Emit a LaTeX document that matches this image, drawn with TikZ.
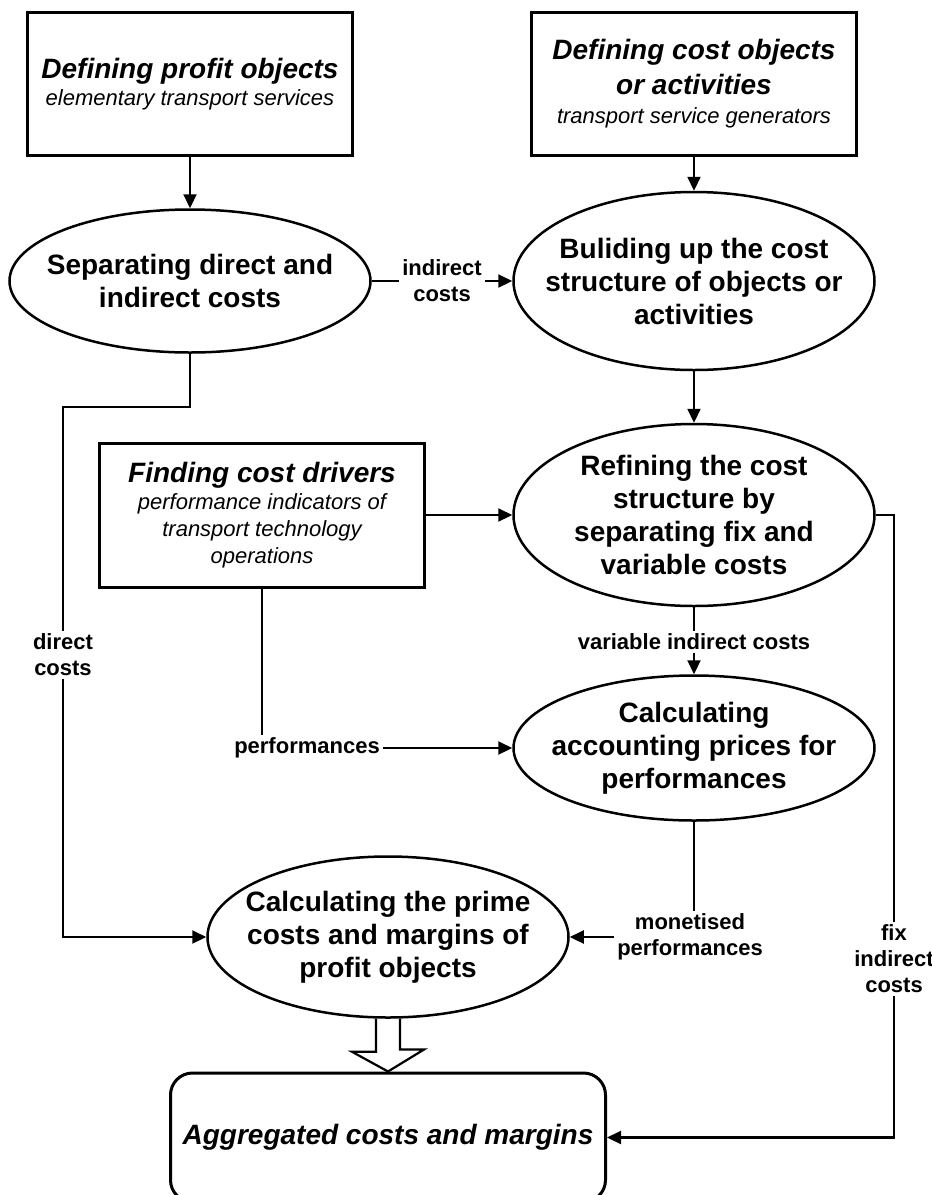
\documentclass[tikz,border=0pt]{standalone}
\usepackage{fontspec}
\setmainfont{Liberation Sans}
\usetikzlibrary{shapes.geometric,arrows.meta}

\tikzset{
  box/.style={draw, line width=3pt, minimum width=325pt, minimum height=143pt,
    align=center, font=\fontsize{22}{27}\selectfont\itshape},
  proc/.style={draw, ellipse, line width=2.5pt, inner sep=0pt, minimum width=361pt},
  ptext/.style={align=center, font=\fontsize{28}{33}\selectfont\bfseries},
  lbl/.style={align=center, font=\fontsize{22}{26}\selectfont\bfseries, inner sep=3pt},
  flow/.style={line width=2.2pt},
  flowarr/.style={flow, -{Triangle[length=14pt,width=13pt]}},
}
\newcommand{\headtxt}[1]{{\fontsize{28}{33}\selectfont\bfseries\itshape #1}}

\begin{document}
\begin{tikzpicture}[x=1pt,y=-1pt]
        \useasboundingbox (0,0) rectangle (932,1195);

        % Boxes at the top
        \node[box] (profit) at (190,84) {\headtxt{Defining profit objects}\\elementary transport services};
        \node[box] (costobj) at (694,84) {\headtxt{Defining cost objects}\\[8pt]\headtxt{or activities}\\[2pt]transport service generators};

        % Processes
        \node[proc, minimum height=143pt] (sep) at (190,281) {};
        \node[ptext] (sep-t) at (sep) {Separating direct and\\indirect costs};
        \node[proc, minimum height=178pt] (build) at (694,281) {};
        \node[ptext] (build-t) at (build) {Buliding up the cost\\structure of objects or\\activities};
        \node[proc, minimum height=182pt] (refine) at (694,515) {};
        \node[ptext] (refine-t) at (refine) {Refining the cost\\structure by\\separating fix and\\variable costs};
        \node[box, minimum height=144pt] (drv) at (262,515) {\headtxt{Finding cost drivers}\\performance indicators of\\transport technology\\operations};
        \node[proc, minimum height=145pt] (acc) at (694,748) {};
        \node[ptext] (acc-t) at (acc) {Calculating\\accounting prices for\\performances};
        \node[proc, minimum height=161pt] (prime) at (388,937) {};
        \node[ptext] (prime-t) at (prime) {Calculating the prime\\costs and margins of\\profit objects};
        \node[draw, line width=3pt, rounded corners=22pt, minimum width=435pt, minimum height=129pt] (agg) at (388,1137.5) {\headtxt{Aggregated costs and margins}};

        % Labels on the connectors
        \node[lbl] (ind) at (442,281) {indirect\\costs};
        \node[lbl] (dir) at (63,655) {direct\\costs};
        \node[lbl] (var) at (694,642) {variable indirect costs};
        \node[lbl] (perf) at (307,748) {performances};
        \node[lbl] (mon) at (690,937) {monetised\\performances};
        \node[lbl] (fix) at (894,959) {fix\\indirect\\costs};
        \coordinate (dbend) at (63,407);

        % Connectors
        \draw[flowarr] (profit) -- (sep);
        \draw[flowarr] (costobj) -- (build);
        \draw[flow] (sep.east) -- (ind.west);
        \draw[flowarr] (ind.east) -- (build.west);
        \draw[flow] (sep.south) |- (dbend) -- (dir.north);
        \draw[flowarr] (dir.south) |- (prime.west);
        \draw[flowarr] (build) -- (refine);
        \draw[flowarr] (drv) -- (refine);
        \draw[flow] (refine.east) -| (fix.north);
        \draw[flowarr] (fix.south) |- (agg.east);
        \draw[flow] (refine.south) -- (var.north);
        \draw[flowarr] (var) -- (acc);
        \draw[flow] (drv.south) -- (drv.south |- perf.north);
        \draw[flowarr] (perf) -- (acc);
        \draw[flow] (acc.south) -- (acc.south |- mon.north);
        \draw[flowarr] (mon) -- (prime);

        % Hollow arrow to the aggregated results
        \draw[flow] ([xshift=-12pt]prime.south) -- ++(0,33) -- ++(-24,0) -- (agg.north)
              -- ++(36,-22) -- ++(-24,0) -- ([xshift=12pt]prime.south);

      \end{tikzpicture}
\end{document}
